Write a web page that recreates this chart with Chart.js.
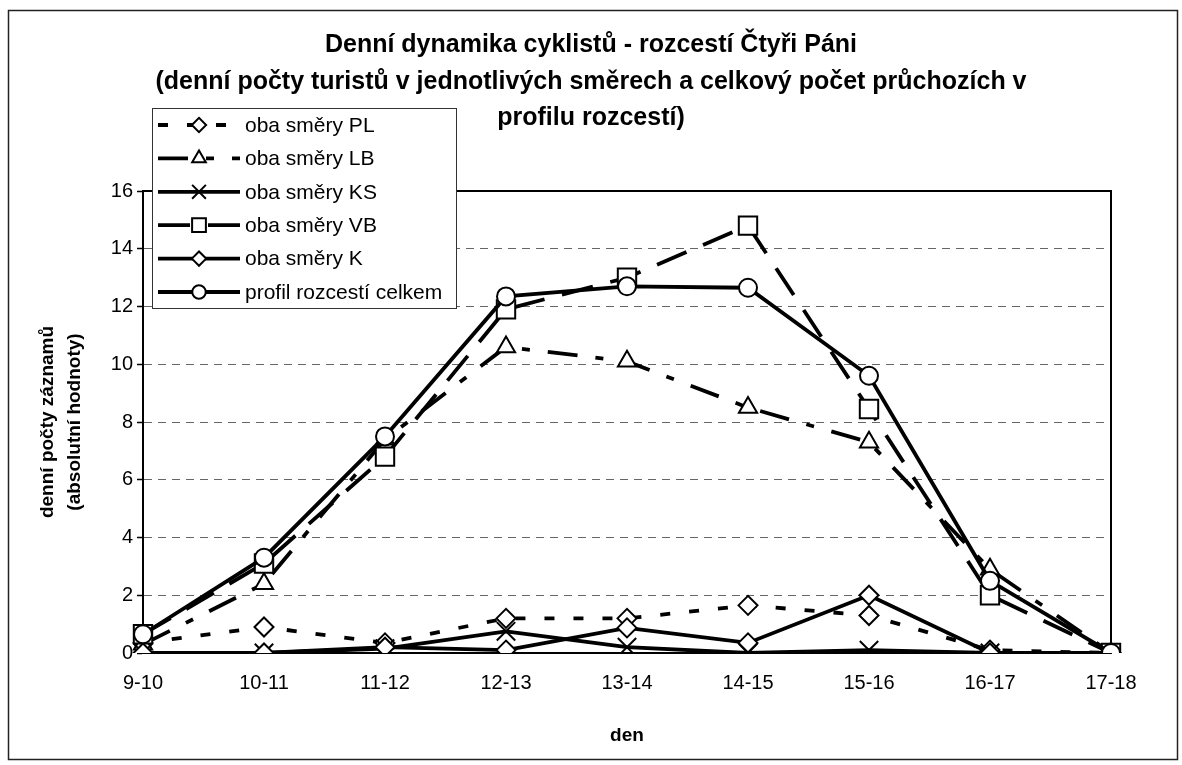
<!DOCTYPE html>
<html>
<head>
<meta charset="utf-8">
<script src="https://cdn.jsdelivr.net/npm/chart.js@4/dist/chart.umd.min.js"></script>
<style>
  html, body { margin: 0; padding: 0; background: #fff; }
  #wrap { position: relative; width: 1182px; height: 765px; }
</style>
</head>
<body>
<div id="wrap"><canvas id="chart-dynamika" width="1182" height="765"></canvas></div>
<script>
// ── Data ────────────────────────────────────────────────────────────────────

const hours = ['9-10', '10-11', '11-12', '12-13', '13-14', '14-15', '15-16', '16-17', '17-18'];

const obaPL = [0.35, 0.9, 0.35, 1.2, 1.2, 1.65, 1.3, 0.1, 0];
const obaLB = [0.3, 2.4, 7.4, 10.6, 10.1, 8.5, 7.3, 2.9, 0];
const obaKS = [0, 0, 0.15, 0.75, 0.2, 0, 0.1, 0, 0];
const obaVB = [0.65, 3.1, 6.8, 11.9, 13.0, 14.8, 8.45, 2.0, 0];
const obaK = [0, 0, 0.2, 0.1, 0.87, 0.35, 2.0, 0, 0];
const celkem = [0.65, 3.3, 7.5, 12.35, 12.7, 12.65, 9.6, 2.5, 0];

const yTicks = [0, 2, 4, 6, 8, 10, 12, 14, 16];

const titleLines = [
    'Denní dynamika cyklistů - rozcestí Čtyři Páni',
    '(denní počty turistů v jednotlivých směrech a celkový počet průchozích v',
    'profilu rozcestí)',
];

// ── Shared helpers ──────────────────────────────────────────────────────────

const FONT = "'Liberation Sans', Arial, sans-serif";
const black = '#000000';

const series = (label, data, { dash = [], pointStyle, radius, order }) => ({
    label,
    data,
    order,
    borderColor: black,
    borderWidth: 3.8,
    borderDash: dash,
    borderCapStyle: 'butt',
    tension: 0,
    fill: false,
    pointStyle,
    pointRadius: radius,
    pointBackgroundColor: '#ffffff',
    pointBorderColor: black,
    pointBorderWidth: 2,
});

// frame round the whole picture and round the plot area
const framePlugin = {
    id: 'frame',
    beforeDraw(chart) {
        const { ctx } = chart;
        ctx.save();
        ctx.fillStyle = '#fff';
        ctx.fillRect(0, 0, chart.width, chart.height);
        ctx.strokeStyle = '#222';
        ctx.lineWidth = 1.5;
        ctx.strokeRect(8.5, 10.5, 1169, 749);
        ctx.restore();
    },
    beforeDatasetsDraw(chart) {
        const { ctx, chartArea: a } = chart;
        ctx.save();
        ctx.strokeStyle = black;
        ctx.lineWidth = 2;
        ctx.beginPath();
        ctx.moveTo(a.left, a.top);
        ctx.lineTo(a.right, a.top);
        ctx.lineTo(a.right, a.bottom);
        ctx.stroke();
        ctx.restore();
    },
};

// legend box sitting over the top-left corner, like the original
const boxLegend = {
    id: 'boxLegend',
    afterDraw(chart) {
        const { ctx } = chart;
        const box = { x: 152, y: 108, w: 304, h: 200 };
        const rowH = 33.4;
        ctx.save();
        ctx.fillStyle = '#fff';
        ctx.fillRect(box.x, box.y, box.w, box.h);
        ctx.strokeStyle = '#333';
        ctx.lineWidth = 1;
        ctx.strokeRect(box.x + 0.5, box.y + 0.5, box.w, box.h);

        ctx.font = `21px ${FONT}`;
        ctx.textBaseline = 'middle';
        ctx.textAlign = 'left';
        chart.data.datasets.forEach((ds, i) => {
            const y = box.y + 17 + i * rowH;
            ctx.strokeStyle = black;
            ctx.lineWidth = ds.borderWidth;
            ctx.lineCap = 'butt';
            ctx.setLineDash(ds.borderDash);
            ctx.beginPath();
            ctx.moveTo(158, y);
            ctx.lineTo(240, y);
            ctx.stroke();
            ctx.setLineDash([]);
            ctx.fillStyle = '#fff';
            ctx.lineWidth = 2;
            Chart.helpers.drawPoint(ctx, {
                pointStyle: ds.pointStyle,
                radius: ds.pointRadius * 0.75,
                borderWidth: 2,
                rotation: 0,
            }, 199, y);
            ctx.fillStyle = black;
            ctx.fillText(ds.label, 245, y + 1);
        });
        ctx.restore();
    },
};

// ── Chart ───────────────────────────────────────────────────────────────────

const ctx = document.getElementById('chart-dynamika').getContext('2d');

new Chart(ctx, {
    type: 'line',
    data: {
        labels: hours,
        datasets: [
            series('oba směry PL', obaPL, { dash: [10, 19], pointStyle: 'rectRot', radius: 9.5, order: 5 }),
            series('oba směry LB', obaLB, { dash: [30, 18, 8, 18], pointStyle: 'triangle', radius: 10.5, order: 4 }),
            series('oba směry KS', obaKS, { pointStyle: 'crossRot', radius: 13, order: 3 }),
            series('oba směry VB', obaVB, { dash: [32, 18], pointStyle: 'rect', radius: 13, order: 2 }),
            series('oba směry K', obaK, { pointStyle: 'rectRot', radius: 9.5, order: 1 }),
            series('profil rozcestí celkem', celkem, { pointStyle: 'circle', radius: 9, order: 0 }),
        ],
    },
    options: {
        responsive: false,
        animation: false,
        layout: { padding: 0 },
        plugins: {
            legend: { display: false },
            tooltip: { enabled: false },
            title: {
                display: true,
                text: titleLines,
                color: black,
                font: { family: FONT, size: 25, weight: 'bold', lineHeight: 1.46 },
                padding: { top: 27, bottom: 54.5 },
            },
        },
        scales: {
            x: {
                offset: false,
                grid: { display: false, drawTicks: false },
                border: { display: true, color: black, width: 2 },
                ticks: { color: black, font: { family: FONT, size: 20 }, padding: 18, maxRotation: 0, autoSkip: false },
                title: {
                    display: true,
                    text: 'den',
                    color: black,
                    font: { family: FONT, size: 19, weight: 'bold' },
                    padding: { top: 0, bottom: 18 },
                },
                afterFit: (scale) => { scale.height = 112; },
            },
            y: {
                position: 'left',
                min: 0,
                max: 16,
                afterBuildTicks: (scale) => { scale.ticks = yTicks.map((v) => ({ value: v })); },
                grid: {
                    color: '#666',
                    lineWidth: 1,
                    drawTicks: true,
                    tickLength: 6,
                    tickColor: black,
                    tickWidth: 1.5,
                    tickBorderDash: [],
                },
                border: { display: true, color: black, width: 2, dash: [8, 6] },
                ticks: { color: black, font: { family: FONT, size: 20 }, padding: 4 },
                title: {
                    display: true,
                    text: ['denní počty záznamů', '(absolutní hodnoty)'],
                    color: black,
                    font: { family: FONT, size: 19, weight: 'bold', lineHeight: 1.42 },
                    padding: { top: 34, bottom: 0 },
                },
                afterFit: (scale) => { scale.width = 143; },
            },
            yRight: {
                position: 'right',
                display: true,
                grid: { display: false, drawTicks: false },
                border: { display: false },
                ticks: { display: false },
                afterFit: (scale) => { scale.width = 71; },
            },
        },
    },
    plugins: [framePlugin, boxLegend],
});
</script>
</body>
</html>
